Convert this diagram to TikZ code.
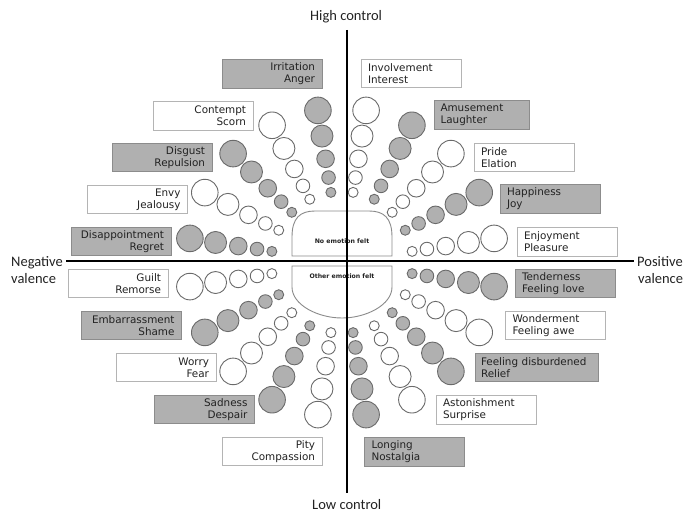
\documentclass[tikz,border=0pt]{standalone}
\usepackage{fontspec}
\setmainfont{DejaVu Sans}
\newfontfamily\axisfont{Carlito}
\definecolor{cg}{HTML}{B0B0B0}
\definecolor{circline}{HTML}{6A6A6A}
\definecolor{gboxline}{HTML}{8C8C8C}
\definecolor{wboxline}{HTML}{B4B4B4}
\definecolor{txt}{HTML}{222222}
\definecolor{shapeline}{HTML}{8A8A8A}
\begin{document}
\begin{tikzpicture}[x=1pt,y=-1pt,
  circ/.style={circle,draw=circline,line width=0.9pt,inner sep=0pt},
  ebox/.style={rectangle,inner sep=0pt,minimum height=28.5pt,minimum width=100pt,text width=86pt,
    line width=0.8pt,text=txt,font=\fontsize{10.4}{12}\selectfont},
  gbox/.style={ebox,fill=cg,draw=gboxline},
  wbox/.style={ebox,fill=white,draw=wboxline},
  lside/.style={align=right},
  rside/.style={align=left},
  axislabel/.style={inner sep=0pt,anchor=base west,text=txt,font=\axisfont\fontsize{14.5}{16}\selectfont},
  centershape/.style={draw=shapeline,line width=0.9pt,fill=white},
  centertext/.style={inner sep=0pt,text=txt,font=\bfseries\fontsize{6.2}{7}\selectfont},
  axisline/.style={line width=2pt,black}]
\useasboundingbox (0,0) rectangle (683,513);

% circles along the 20 spokes
\foreach \a/\col [count=\i] in {81/white,63/cg,45/white,27/cg,9/white,-9/cg,-27/white,-45/cg,-63/white,-81/cg,-99/white,-117/cg,-135/white,-153/cg,-171/white,171/cg,153/white,135/cg,117/white,99/cg}{
  \foreach \d/\r [count=\j] in {71/5,86/6.8,105/8.8,128/11,154/13.3}{
    \node[circ,fill=\col,minimum size={2*\r*1pt}] (c\i-\j) at ({342+\d*cos(\a)},{262.5-\d*sin(\a)}) {};
  }
}

% boxes, left side
\node[gbox,lside] (irritation) at (272,74) {Irritation\\Anger};
\node[wbox,lside] (contempt) at (203,116) {Contempt\\Scorn};
\node[gbox,lside] (disgust) at (162,157.5) {Disgust\\Repulsion};
\node[wbox,lside] (envy) at (137.5,199.5) {Envy\\Jealousy};
\node[gbox,lside] (disappointment) at (121,241.5) {Disappointment\\Regret};
\node[wbox,lside] (guilt) at (118,283.5) {Guilt\\Remorse};
\node[gbox,lside] (embarrassment) at (131.5,325.5) {Embarrassment\\Shame};
\node[wbox,lside] (worry) at (166,367.5) {Worry\\Fear};
\node[gbox,lside] (sadness) at (204.5,409.5) {Sadness\\Despair};
\node[wbox,lside] (pity) at (272,451.5) {Pity\\Compassion};
% boxes, right side
\node[wbox,rside] (involvement) at (411,73.5) {Involvement\\Interest};
\node[gbox,rside,minimum width=95pt,text width=82pt] (amusement) at (481.5,115) {Amusement\\Laughter};
\node[wbox,rside] (pride) at (524,157.5) {Pride\\Elation};
\node[gbox,rside] (happiness) at (550,199) {Happiness\\Joy};
\node[wbox,rside] (enjoyment) at (567,242) {Enjoyment\\Pleasure};
\node[gbox,rside] (tenderness) at (565,283.5) {Tenderness\\Feeling love};
\node[wbox,rside] (wonderment) at (555.5,325.5) {Wonderment\\Feeling awe};
\node[gbox,rside,minimum width=123pt,text width=111pt] (relief) at (536.5,367.5) {Feeling disburdened\\Relief};
\node[wbox,rside] (astonishment) at (486,410) {Astonishment\\Surprise};
\node[gbox,rside] (longing) at (414.5,452) {Longing\\Nostalgia};

% center shapes
\draw[centershape] (292,256) -- (292,237) .. controls (292,218) and (300,211) .. (315,211)
  -- (369,211) .. controls (384,211) and (392,218) .. (392,237) -- (392,256) -- cycle;
\draw[centershape] (292,266) -- (392,266) -- (392,287) .. controls (392,305) and (366,318) .. (342,318)
  .. controls (318,318) and (292,305) .. (292,287) -- cycle;
\node[centertext] (noemo) at (342,241) {No emotion felt};
\node[centertext] (otheremo) at (342,276) {Other emotion felt};

% axis labels
\node[axislabel] (high) at (310,20.7) {High control};
\node[axislabel] (low) at (312,509.5) {Low control};
\node[axislabel] (neg) at (11,266) {Negative};
\node[axislabel] (negv) at (11,283.5) {valence};
\node[axislabel] (pos) at (637,266) {Positive};
\node[axislabel] (posv) at (638,283.3) {valence};

% axes
\coordinate (vtop) at (347,30);
\coordinate (vbot) at (347,493);
\coordinate (hleft) at (66,261.5);
\coordinate (hright) at (634,261.5);
\draw[axisline] (vtop) -- (vbot);
\draw[axisline] (hleft) -- (hright);
\end{tikzpicture}
\end{document}
